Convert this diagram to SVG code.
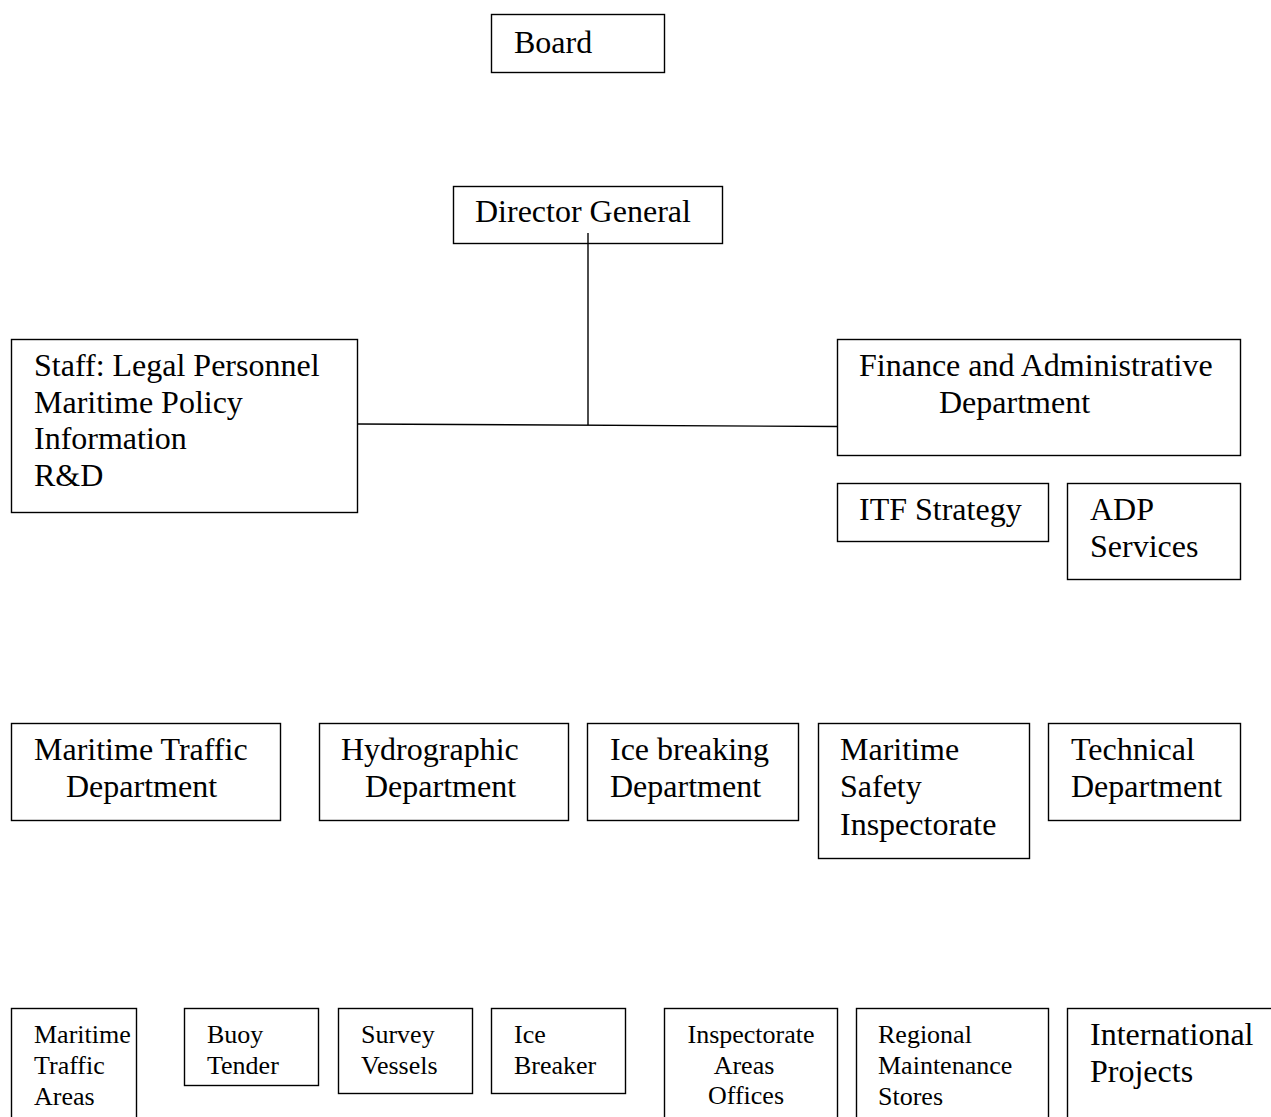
<svg xmlns="http://www.w3.org/2000/svg" width="1271" height="1117" viewBox="0 0 1271 1117">
<style>
rect{fill:#fff;stroke:#000;stroke-width:1.4}
text{font-family:"Liberation Serif","Times New Roman",serif;font-size:32px;fill:#000}
text.s{font-size:26px}
.c line{stroke:#000;stroke-width:1.4}
</style>
<rect x="0" y="0" width="1271" height="1117" style="stroke:none"/>
<g id="board"><rect x="491.5" y="14.5" width="173" height="58"/><text x="514" y="53">Board</text></g>
<g id="director"><rect x="453.5" y="186.5" width="269" height="57"/><text x="475" y="222">Director General</text></g>
<g id="staff"><rect x="11.5" y="339.5" width="346" height="173"/>
<text x="34" y="376">Staff: Legal Personnel</text>
<text x="34" y="412.5">Maritime Policy</text>
<text x="34" y="449">Information</text>
<text x="34" y="486">R&amp;D</text></g>
<g id="finance"><rect x="837.5" y="339.5" width="403" height="116"/>
<text x="859" y="376">Finance and Administrative</text>
<text x="939" y="412.5">Department</text></g>
<g id="itf"><rect x="837.5" y="483.5" width="211" height="58"/><text x="859" y="520">ITF Strategy</text></g>
<g id="adp"><rect x="1067.5" y="483.5" width="173" height="96"/><text x="1090" y="520">ADP</text><text x="1090" y="557">Services</text></g>
<g id="mtd"><rect x="11.5" y="723.5" width="269" height="97"/><text x="34" y="760">Maritime Traffic</text><text x="66" y="797">Department</text></g>
<g id="hyd"><rect x="319.5" y="723.5" width="249" height="97"/><text x="341" y="760">Hydrographic</text><text x="365" y="797">Department</text></g>
<g id="ice"><rect x="587.5" y="723.5" width="211" height="97"/><text x="610" y="760">Ice breaking</text><text x="610" y="797">Department</text></g>
<g id="msi"><rect x="818.5" y="723.5" width="211" height="135"/><text x="840" y="760">Maritime</text><text x="840" y="797">Safety</text><text x="840" y="835">Inspectorate</text></g>
<g id="tech"><rect x="1048.5" y="723.5" width="192" height="97"/><text x="1071" y="760">Technical</text><text x="1071" y="797">Department</text></g>
<g id="mta"><rect x="11.5" y="1008.5" width="125" height="120"/><text class="s" x="34" y="1043">Maritime</text><text class="s" x="34" y="1074">Traffic</text><text class="s" x="34" y="1105">Areas</text></g>
<g id="buoy"><rect x="184.5" y="1008.5" width="134" height="77"/><text class="s" x="207" y="1043">Buoy</text><text class="s" x="207" y="1074">Tender</text></g>
<g id="survey"><rect x="338.5" y="1008.5" width="134" height="85"/><text class="s" x="361" y="1043">Survey</text><text class="s" x="361" y="1074">Vessels</text></g>
<g id="icebreaker"><rect x="491.5" y="1008.5" width="134" height="85"/><text class="s" x="514" y="1043">Ice</text><text class="s" x="514" y="1074">Breaker</text></g>
<g id="insp"><rect x="664.5" y="1008.5" width="173" height="120"/><text class="s" x="751" y="1043" text-anchor="middle">Inspectorate</text><text class="s" x="744" y="1074" text-anchor="middle">Areas</text><text class="s" x="746" y="1104" text-anchor="middle">Offices</text></g>
<g id="regional"><rect x="856.5" y="1008.5" width="192" height="120"/><text class="s" x="878" y="1043">Regional</text><text class="s" x="878" y="1074">Maintenance</text><text class="s" x="878" y="1105">Stores</text></g>
<g id="intl"><rect x="1067.5" y="1008.5" width="220" height="120"/><text x="1090" y="1045">International</text><text x="1090" y="1082">Projects</text></g>
<g class="c" id="connectors">
<line x1="588" y1="233" x2="588" y2="425"/>
<line x1="358" y1="424" x2="838" y2="426.5"/>
</g>
</svg>
